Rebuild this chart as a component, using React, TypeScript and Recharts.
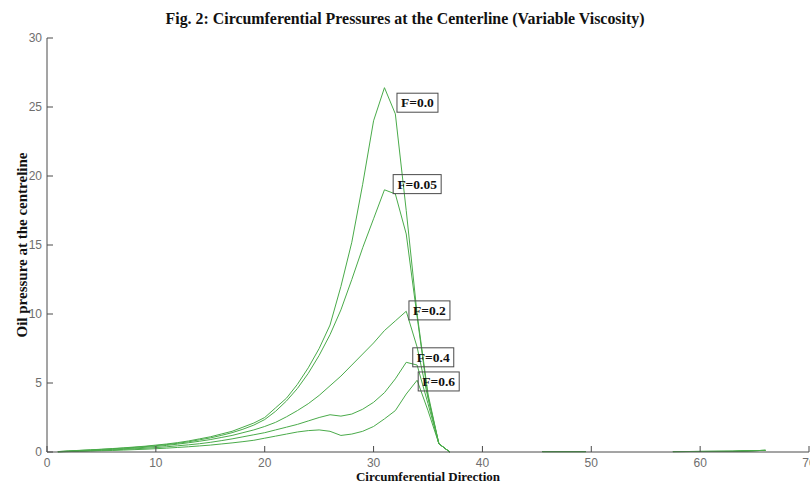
import React from "react";
import {
  LineChart,
  Line,
  XAxis,
  YAxis,
  ReferenceDot,
} from "recharts";

// circumferential direction (x) shared by all series; nulls leave gaps on the zero line
const direction = [
  1, 2, 3, 4, 5, 6, 7, 8, 9, 10, 11, 12, 13, 14, 15, 16, 17, 18, 19, 20,
  21, 22, 23, 24, 25, 26, 27, 28, 29, 30, 31, 32, 33, 34, 35, 36, 37,
  41, 45.5, 49.5, 53, 57.5, 63, 66,
];

const f00 = [
  0.03, 0.08, 0.12, 0.16, 0.2, 0.25, 0.3, 0.36, 0.42, 0.5, 0.58, 0.68, 0.8, 0.95, 1.1, 1.3, 1.5, 1.8, 2.1, 2.5,
  3.2, 3.9, 4.9, 6.1, 7.5, 9.2, 12.0, 15.2, 19.4, 24.0, 26.4, 24.5, 17.5, 10.0, 4.2, 0.6, 0,
  null, 0.03, 0.03, null, 0.03, 0.05, 0.12,
];
const f005 = [
  0.03, 0.07, 0.11, 0.15, 0.19, 0.23, 0.28, 0.33, 0.39, 0.46, 0.54, 0.63, 0.74, 0.88, 1.02, 1.2, 1.4, 1.65, 1.95, 2.35,
  2.95, 3.7, 4.6, 5.7, 7.0, 8.5, 10.3, 12.5, 14.8, 16.9, 19.0, 18.7, 15.8, 9.8, 4.0, 0.6, 0,
  null, 0.03, 0.03, null, 0.03, 0.05, 0.12,
];
const f02 = [
  0.02, 0.05, 0.08, 0.11, 0.15, 0.19, 0.23, 0.28, 0.34, 0.4, 0.48, 0.57, 0.67, 0.78, 0.9, 1.05, 1.2, 1.4, 1.6, 1.85,
  2.15, 2.55, 3.0, 3.5, 4.1, 4.8, 5.5, 6.3, 7.1, 7.9, 8.8, 9.5, 10.2, 7.6, 3.9, 0.6, 0,
  null, 0.03, 0.03, null, 0.03, 0.05, 0.12,
];
const f04 = [
  0.02, 0.04, 0.06, 0.09, 0.12, 0.15, 0.19, 0.23, 0.27, 0.32, 0.38, 0.45, 0.52, 0.6, 0.7, 0.82, 0.95, 1.1, 1.25, 1.4,
  1.6, 1.8, 2.0, 2.25, 2.5, 2.7, 2.6, 2.75, 3.1, 3.6, 4.3, 5.3, 6.5, 6.3, 3.5, 0.6, 0,
  null, 0.03, 0.03, null, 0.03, 0.05, 0.12,
];
const f06 = [
  0.01, 0.03, 0.05, 0.07, 0.09, 0.11, 0.14, 0.17, 0.2, 0.24, 0.28, 0.33, 0.38, 0.44, 0.5, 0.58, 0.66, 0.75, 0.85, 1.0,
  1.15, 1.3, 1.45, 1.55, 1.6, 1.5, 1.2, 1.3, 1.5, 1.85, 2.4, 3.0, 4.2, 5.2, 3.0, 0.6, 0,
  null, 0.03, 0.03, null, 0.03, 0.05, 0.12,
];

const seriesKeys = ["f00", "f005", "f02", "f04", "f06"];
const seriesValues = [f00, f005, f02, f04, f06];

// boxed labels: text and top-left corner in data units
const labelTexts = ["F=0.0", "F=0.05", "F=0.2", "F=0.4", "F=0.6"];
const labelX = [32.15, 31.8, 33.25, 33.6, 34.1];
const labelY = [26.0, 20.1, 10.95, 7.55, 5.8];

const xTicks = [0, 10, 20, 30, 40, 50, 60, 70];
const yTicks = [0, 5, 10, 15, 20, 25, 30];

const rows = direction.map((x, i) => {
  const row: Record<string, number | null> = { x };
  seriesKeys.forEach((k, j) => {
    row[k] = seriesValues[j][i];
  });
  return row;
});

const GREEN = "#4aab4a";
const AXIS = "#4a4a4a";
const TICK_TEXT = "#6e6e6e";
const serif = '"Liberation Serif", "Times New Roman", serif';
const sans = '"Liberation Sans", Arial, sans-serif';

const BottomTick = (props: any) => {
  const { x, y, payload } = props;
  return (
    <g>
      <line x1={x} x2={x} y1={y} y2={y - 6} stroke={AXIS} />
      <text x={x} y={y + 15} textAnchor="middle" fill={TICK_TEXT} fontSize={12} fontFamily={sans}>
        {payload.value}
      </text>
    </g>
  );
};

const TopTick = (props: any) => {
  const { x, y } = props;
  return <line x1={x} x2={x} y1={y} y2={y + 6} stroke={AXIS} />;
};

const LeftTick = (props: any) => {
  const { x, y, payload } = props;
  return (
    <g>
      <line x1={x} x2={x + 6} y1={y} y2={y} stroke={AXIS} />
      <text x={x - 5} y={y + 4} textAnchor="end" fill={TICK_TEXT} fontSize={12} fontFamily={sans}>
        {payload.value}
      </text>
    </g>
  );
};

const RightTick = (props: any) => {
  const { x, y } = props;
  return <line x1={x} x2={x - 6} y1={y} y2={y} stroke={AXIS} />;
};

const makeBox = (text: string) => (props: any) => {
  const { cx, cy } = props;
  const w = text.length * 7 + 6;
  return (
    <g>
      <rect x={cx} y={cy} width={w} height={19} fill="none" stroke={AXIS} strokeWidth={1} />
      <text x={cx + w / 2} y={cy + 14} textAnchor="middle" fontSize={13.5} fontWeight="bold" fontFamily={serif} fill="#111">
        {text}
      </text>
    </g>
  );
};

export default function App() {
  return (
    <div style={{ position: "absolute", left: 0, top: 0, width: 810, height: 485, background: "#fff" }}>
      <div
        style={{
          position: "absolute",
          left: 0,
          top: 9,
          width: 810,
          textAlign: "center",
          fontFamily: serif,
          fontWeight: "bold",
          fontSize: 17,
          color: "#111",
          transform: "scaleX(0.935)",
        }}
      >
        Fig. 2: Circumferential Pressures at the Centerline (Variable Viscosity)
      </div>
      <div
        style={{
          position: "absolute",
          left: 428,
          top: 470,
          transform: "translateX(-50%)",
          whiteSpace: "nowrap",
          fontFamily: serif,
          fontWeight: "bold",
          fontSize: 13,
          lineHeight: "14px",
          color: "#111",
        }}
      >
        Circumferential Direction
      </div>
      <div
        style={{
          position: "absolute",
          left: 22,
          top: 245,
          transform: "translate(-50%, -50%) rotate(-90deg)",
          whiteSpace: "nowrap",
          fontFamily: serif,
          fontWeight: "bold",
          fontSize: 15,
          color: "#111",
        }}
      >
        Oil pressure at the centreline
      </div>
      <LineChart
        width={810}
        height={485}
        data={rows}
        margin={{ top: 38, right: 1, bottom: 13, left: 7 }}
        style={{ position: "absolute", left: 0, top: 0 }}
      >
        <XAxis
          dataKey="x"
          type="number"
          domain={[0, 70]}
          ticks={xTicks}
          height={20}
          tickSize={0}
          tickMargin={0}
          tickLine={false}
          axisLine={{ stroke: AXIS }}
          tick={<BottomTick />}
          interval={0}
        />
        <XAxis
          xAxisId="top"
          orientation="top"
          dataKey="x"
          type="number"
          domain={[0, 70]}
          ticks={xTicks}
          height={0}
          tickSize={0}
          tickMargin={0}
          tickLine={false}
          axisLine={{ stroke: AXIS }}
          tick={<TopTick />}
          interval={0}
        />
        <YAxis
          type="number"
          domain={[0, 30]}
          ticks={yTicks}
          width={40}
          tickSize={0}
          tickMargin={0}
          tickLine={false}
          axisLine={{ stroke: AXIS }}
          tick={<LeftTick />}
          interval={0}
        />
        <YAxis
          yAxisId="right"
          orientation="right"
          type="number"
          domain={[0, 30]}
          ticks={yTicks}
          width={0}
          tickSize={0}
          tickMargin={0}
          tickLine={false}
          axisLine={{ stroke: AXIS }}
          tick={<RightTick />}
          interval={0}
        />
        {seriesKeys.map((k) => (
          <Line
            key={k}
            type="linear"
            dataKey={k}
            stroke={GREEN}
            strokeWidth={1}
            dot={false}
            activeDot={false}
            connectNulls={false}
            isAnimationActive={false}
          />
        ))}
        {labelTexts.map((t, i) => (
          <ReferenceDot
            key={t}
            x={labelX[i]}
            y={labelY[i]}
            r={0}
            ifOverflow="visible"
            shape={makeBox(t)}
          />
        ))}
      </LineChart>
    </div>
  );
}
